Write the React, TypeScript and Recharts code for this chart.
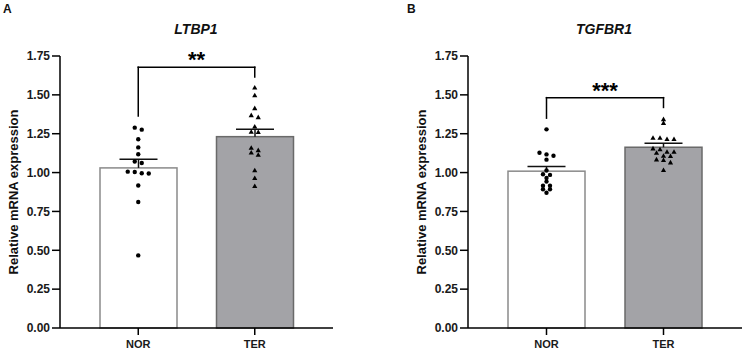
import React from 'react';
import { ComposedChart, Bar, Scatter, XAxis, YAxis, ReferenceLine } from 'recharts';

// ---- data -------------------------------------------------------------
const groups = ['NOR', 'TER'];
const yTicks = [0, 0.25, 0.5, 0.75, 1.0, 1.25, 1.5, 1.75];

// LTBP1
const ltbp1Means = [1.03, 1.231];
const ltbp1Sem = [0.056, 0.048];
const ltbp1Nor = [1.289, 1.276, 1.214, 1.162, 1.118, 1.071, 1.062, 1.006, 1.004, 0.996, 0.994, 0.917, 0.811, 0.467];
const ltbp1Ter = [1.546, 1.496, 1.413, 1.368, 1.355, 1.295, 1.261, 1.259, 1.158, 1.143, 1.128, 1.113, 1.013, 0.963, 0.912];

// TGFBR1
const tgfbr1Means = [1.009, 1.163];
const tgfbr1Sem = [0.03, 0.026];
const tgfbr1Nor = [1.278, 1.128, 1.117, 1.108, 1.083, 1.013, 0.989, 0.985, 0.965, 0.942, 0.916, 0.916, 0.893, 0.893, 0.87];
const tgfbr1Ter = [1.342, 1.318, 1.222, 1.222, 1.214, 1.214, 1.154, 1.148, 1.132, 1.132, 1.126, 1.107, 1.105, 1.083, 1.079, 1.064, 1.015];

// significance brackets (value levels on the y scale)
const ltbp1Bracket = { stars: '**', top: 1.677, leftEnd: 1.364, rightEnd: 1.615 };
const tgfbr1Bracket = { stars: '***', top: 1.482, leftEnd: 1.35, rightEnd: 1.419 };

// ---- layout & style ---------------------------------------------------
const FONT = '"Liberation Sans", Arial, Helvetica, sans-serif';
const H = 349;
const MARGIN_TOP = 56;
const X_AXIS_H = 21;
const Y_MAX = 1.75;
const PLOT_H = H - MARGIN_TOP - X_AXIS_H;
const PX_PER_UNIT = PLOT_H / Y_MAX;

const GROUP_STYLE: Record<string, { fill: string; stroke: string }> = {
  NOR: { fill: '#ffffff', stroke: '#8a8a8a' },
  TER: { fill: '#a3a3a7', stroke: '#6a6a6a' },
};

// Spread points that sit at nearly the same height into centred rows.
function swarmOffsets(values: number[], spacing = 7, tol = 3.5): number[] {
  const order = values.map((_, i) => i).sort((a, b) => values[b] - values[a]);
  const offsets = new Array(values.length).fill(0);
  let row: number[] = [];
  const flush = () => {
    row.forEach((idx, k) => {
      offsets[idx] = (k - (row.length - 1) / 2) * spacing;
    });
    row = [];
  };
  for (const idx of order) {
    if (row.length && (values[row[0]] - values[idx]) * PX_PER_UNIT >= tol) flush();
    row.push(idx);
  }
  flush();
  return offsets;
}

function pointRows(group: string, values: number[]) {
  const dx = swarmOffsets(values);
  return values.map((value, i) => ({ group, value, dx: dx[i] }));
}

const BarWithSem = (props: any) => {
  const { x, y, width, height, payload } = props;
  if (x == null || y == null) return null;
  const s = GROUP_STYLE[payload.group];
  const pxPerUnit = height / payload.mean;
  const top = y - payload.sem * pxPerUnit;
  const cx = x + width / 2;
  return (
    <g>
      <rect x={x} y={y} width={width} height={height} fill={s.fill} stroke={s.stroke} strokeWidth={1.5} />
      <line x1={cx} x2={cx} y1={y} y2={top} stroke="#111" strokeWidth={1.5} />
      <line x1={cx - 19} x2={cx + 19} y1={top} y2={top} stroke="#111" strokeWidth={1.5} />
    </g>
  );
};

const CircleDot = (props: any) => {
  const { cx, cy, payload } = props;
  if (cx == null || cy == null) return null;
  return <circle cx={cx + payload.dx} cy={cy} r={2.2} fill="#000" />;
};

const TriangleDot = (props: any) => {
  const { cx, cy, payload } = props;
  if (cx == null || cy == null) return null;
  const x = cx + payload.dx;
  return <path d={`M${x},${cy - 2.8} L${x + 2.6},${cy + 1.8} L${x - 2.6},${cy + 1.8} Z`} fill="#000" />;
};

type PanelProps = {
  width: number;
  marginRight: number;
  means: number[];
  sems: number[];
  nor: number[];
  ter: number[];
  bracket: { stars: string; top: number; leftEnd: number; rightEnd: number };
};

function Panel({ width, marginRight, means, sems, nor, ter, bracket }: PanelProps) {
  const table = groups.map((group, i) => ({ group, mean: means[i], sem: sems[i] }));
  const norPts = pointRows('NOR', nor);
  const terPts = pointRows('TER', ter);
  const axisStroke = { stroke: '#000', strokeWidth: 1.5 };
  const xTickFont = { fill: '#1a1a1a', fontSize: 11, fontWeight: 'bold', fontFamily: FONT };
  const yTickFont = { fill: '#1a1a1a', fontSize: 12, fontWeight: 'bold', fontFamily: FONT };
  return (
    <ComposedChart
      width={width}
      height={H}
      data={table}
      margin={{ top: MARGIN_TOP, right: marginRight, bottom: 0, left: 0 }}
    >
      <XAxis
        dataKey="group"
        type="category"
        allowDuplicatedCategory={false}
        padding={{ left: 20, right: 20 }}
        height={X_AXIS_H}
        tickSize={7}
        tickMargin={5}
        axisLine={axisStroke}
        tickLine={axisStroke}
        tick={xTickFont}
      />
      <YAxis
        type="number"
        domain={[0, Y_MAX]}
        ticks={yTicks}
        interval={0}
        tickFormatter={(v: number) => v.toFixed(2)}
        width={60}
        tickSize={8}
        tickMargin={2}
        axisLine={axisStroke}
        tickLine={axisStroke}
        tick={yTickFont}
      />
      <Bar dataKey="mean" barSize={77} shape={BarWithSem} isAnimationActive={false} />
      <Scatter data={norPts} dataKey="value" shape={CircleDot} isAnimationActive={false} />
      <Scatter data={terPts} dataKey="value" shape={TriangleDot} isAnimationActive={false} />
      <ReferenceLine
        segment={[{ x: 'NOR', y: bracket.leftEnd }, { x: 'NOR', y: bracket.top }]}
        stroke="#000"
        strokeWidth={1.5}
        strokeLinecap="square"
      />
      <ReferenceLine
        segment={[{ x: 'NOR', y: bracket.top }, { x: 'TER', y: bracket.top }]}
        stroke="#000"
        strokeWidth={1.5}
        strokeLinecap="square"
        label={{
          value: bracket.stars,
          position: 'top',
          offset: 0,
          fill: '#000',
          fontSize: 22,
          fontWeight: 'bold',
          fontFamily: FONT,
        }}
      />
      <ReferenceLine
        segment={[{ x: 'TER', y: bracket.top }, { x: 'TER', y: bracket.rightEnd }]}
        stroke="#000"
        strokeWidth={1.5}
        strokeLinecap="square"
      />
    </ComposedChart>
  );
}

const PANEL_SHIFT = 408;
const PLOT_MID_Y = MARGIN_TOP + PLOT_H / 2;

export default function App() {
  return (
    <div
      style={{
        position: 'absolute',
        left: 0,
        top: 0,
        width: 742,
        height: H,
        overflow: 'hidden',
        background: '#fff',
        fontFamily: FONT,
      }}
    >
      <div style={{ position: 'absolute', left: 0, top: 0 }}>
        <Panel width={371} marginRight={38} means={ltbp1Means} sems={ltbp1Sem} nor={ltbp1Nor} ter={ltbp1Ter} bracket={ltbp1Bracket} />
      </div>
      <div style={{ position: 'absolute', left: PANEL_SHIFT, top: 0 }}>
        <Panel width={742 - PANEL_SHIFT} marginRight={0} means={tgfbr1Means} sems={tgfbr1Sem} nor={tgfbr1Nor} ter={tgfbr1Ter} bracket={tgfbr1Bracket} />
      </div>
      <svg width={742} height={H} style={{ position: 'absolute', left: 0, top: 0, pointerEvents: 'none' }}>
        <g fontFamily={FONT} fontWeight="bold" fill="#111">
          <text x={3} y={12.5} fontSize={12}>A</text>
          <text x={407} y={12.5} fontSize={12}>B</text>
          <text x={196} y={33.5} fontSize={14} fontStyle="italic" textAnchor="middle">LTBP1</text>
          <text x={196 + PANEL_SHIFT} y={33.5} fontSize={14} fontStyle="italic" textAnchor="middle">TGFBR1</text>
          <text x={18} y={PLOT_MID_Y} fontSize={13} textAnchor="middle" transform={`rotate(-90 18 ${PLOT_MID_Y})`}>
            Relative mRNA expression
          </text>
          <text
            x={18 + PANEL_SHIFT}
            y={PLOT_MID_Y}
            fontSize={13}
            textAnchor="middle"
            transform={`rotate(-90 ${18 + PANEL_SHIFT} ${PLOT_MID_Y})`}
          >
            Relative mRNA expression
          </text>
        </g>
      </svg>
    </div>
  );
}
